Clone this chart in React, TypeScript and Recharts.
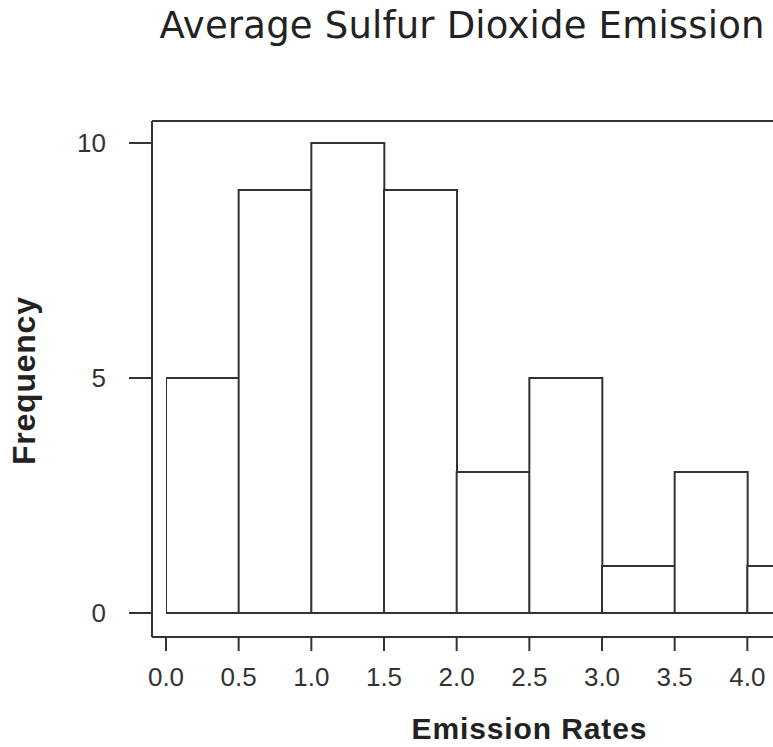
import React from 'react';
import { BarChart, Bar, XAxis, YAxis, ReferenceLine } from 'recharts';

// histogram: bins of width 0.5 starting at these values, and their frequencies
const binStarts = [0, 0.5, 1, 1.5, 2, 2.5, 3, 3.5, 4];
const binCounts = [5, 9, 10, 9, 3, 5, 1, 3, 1];
const binWidth = 0.5;
const xTicks = [0, 0.5, 1, 1.5, 2, 2.5, 3, 3.5, 4];
const yTicks = [0, 5, 10];

const LINE = '#333';
const FONT = '"Liberation Sans", Arial, Helvetica, sans-serif';

// frame of the plot sits a bit outside the data range (Minitab style)
const Y_MIN = -0.511;
const Y_MAX = 10.468;

const data = binStarts.map((start, i) => ({ mid: start + binWidth / 2, count: binCounts[i] }));

const App: React.FC = () => {
  return (
    <div
      style={{
        position: 'absolute',
        left: 0,
        top: 0,
        width: 773,
        height: 747,
        overflow: 'hidden',
        background: '#fff',
        fontFamily: FONT,
      }}
    >
      <BarChart
        width={900}
        height={747}
        data={data}
        margin={{ top: 121, right: 66, bottom: 0, left: 0 }}
        barCategoryGap={0}
        barGap={0}
        style={{ fontFamily: FONT }}
      >
        <XAxis
          dataKey="mid"
          type="number"
          domain={[0, 4.5]}
          allowDataOverflow
          ticks={xTicks}
          interval={0}
          padding={{ left: 14, right: 14 }}
          height={110}
          tickSize={14}
          tickMargin={17}
          tickFormatter={(v: number) => v.toFixed(1)}
          axisLine={{ stroke: LINE, strokeWidth: 2 }}
          tickLine={{ stroke: LINE, strokeWidth: 2 }}
          tick={{ fill: '#333', fontSize: 26 }}
        />
        <YAxis
          domain={[Y_MIN, Y_MAX]}
          allowDataOverflow
          ticks={yTicks}
          interval={0}
          width={152}
          tickSize={23}
          tickMargin={23}
          axisLine={{ stroke: LINE, strokeWidth: 2 }}
          tickLine={{ stroke: LINE, strokeWidth: 2 }}
          tick={{ fill: '#333', fontSize: 26 }}
        />
        <ReferenceLine y={Y_MAX} stroke={LINE} strokeWidth={2} />
        <Bar
          dataKey="count"
          fill="#fff"
          stroke={LINE}
          strokeWidth={2}
          isAnimationActive={false}
        />
      </BarChart>
      <svg
        width={773}
        height={747}
        style={{ position: 'absolute', left: 0, top: 0, pointerEvents: 'none' }}
      >
        <text
          x={462}
          y={38}
          textAnchor="middle"
          fontSize={37}
          fill="#222"
          fontFamily='"DejaVu Sans", sans-serif'
          textLength={605}
          lengthAdjust="spacing"
        >
          Average Sulfur Dioxide Emission
        </text>
        <text
          x={529}
          y={739}
          textAnchor="middle"
          fontSize={30}
          fontWeight="bold"
          fill="#222"
          fontFamily={FONT}
          textLength={235}
          lengthAdjust="spacing"
        >
          Emission Rates
        </text>
        <text
          x={35}
          y={381}
          textAnchor="middle"
          fontSize={32}
          fontWeight="bold"
          fill="#222"
          fontFamily={FONT}
          transform="rotate(-90, 35, 381)"
          textLength={168}
          lengthAdjust="spacing"
        >
          Frequency
        </text>
      </svg>
    </div>
  );
};

export default App;
